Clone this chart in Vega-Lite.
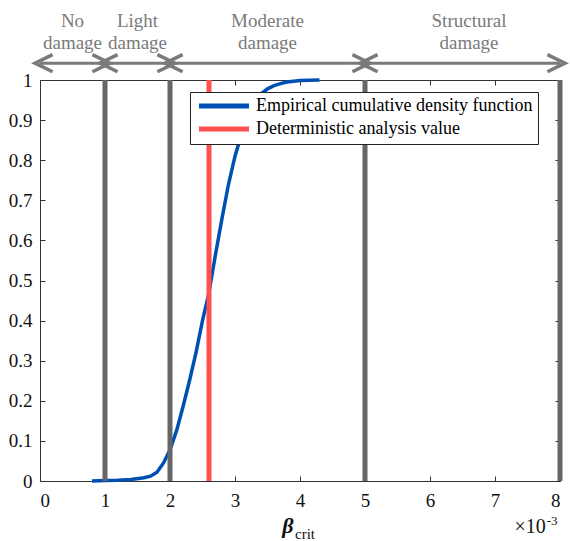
{
  "$schema": "https://vega.github.io/schema/vega-lite/v6.json",
  "autosize": {"type": "none"},
  "padding": {"left": 40, "top": 80, "right": 10, "bottom": 60},
  "width": 520,
  "height": 401,
  "background": "white",
  "config": {
    "view": {"stroke": "#333333", "strokeWidth": 1},
    "axis": {"grid": false, "domain": false, "tickColor": "#333333", "tickSize": -5, "tickWidth": 1,
             "labelFont": "Liberation Serif", "labelFontSize": 19, "labelColor": "#111111", "title": null}
  },
  "datasets": {
    "ecdf": [
      {"beta": 0.8, "p": 0.0}, {"beta": 1.0, "p": 0.001}, {"beta": 1.2, "p": 0.002}, {"beta": 1.4, "p": 0.004},
      {"beta": 1.6, "p": 0.008}, {"beta": 1.7, "p": 0.012}, {"beta": 1.8, "p": 0.022}, {"beta": 1.9, "p": 0.045},
      {"beta": 2.0, "p": 0.078}, {"beta": 2.1, "p": 0.125}, {"beta": 2.2, "p": 0.185}, {"beta": 2.3, "p": 0.25},
      {"beta": 2.4, "p": 0.32}, {"beta": 2.5, "p": 0.4}, {"beta": 2.6, "p": 0.47}, {"beta": 2.7, "p": 0.565},
      {"beta": 2.8, "p": 0.655}, {"beta": 2.9, "p": 0.74}, {"beta": 3.0, "p": 0.81}, {"beta": 3.1, "p": 0.865},
      {"beta": 3.2, "p": 0.905}, {"beta": 3.3, "p": 0.94}, {"beta": 3.4, "p": 0.965}, {"beta": 3.5, "p": 0.978},
      {"beta": 3.6, "p": 0.986}, {"beta": 3.7, "p": 0.991}, {"beta": 3.8, "p": 0.995}, {"beta": 3.9, "p": 0.997},
      {"beta": 4.0, "p": 0.999}, {"beta": 4.3, "p": 1.0}
    ],
    "limits": [{"v": 1}, {"v": 2}, {"v": 5}, {"v": 8}],
    "regions": [
      {"start": 0, "end": 1, "label_x": 0.5, "name": "No\ndamage"},
      {"start": 1, "end": 2, "label_x": 1.5, "name": "Light\ndamage"},
      {"start": 2, "end": 5, "label_x": 3.5, "name": "Moderate\ndamage"},
      {"start": 5, "end": 8, "label_x": 6.6, "name": "Structural\ndamage"}
    ],
    "det": [{"v": 2.6}],
    "one": [{"k": 1}]
  },
  "resolve": {"axis": {"x": "independent", "y": "independent"}},
  "layer": [
    {
      "data": {"name": "ecdf"},
      "mark": {"type": "line", "strokeWidth": 3.5, "clip": false},
      "encoding": {
        "x": {"field": "beta", "type": "quantitative", "scale": {"domain": [0, 8], "nice": false},
              "axis": {"values": [0, 1, 2, 3, 4, 5, 6, 7, 8], "labelPadding": 15, "orient": "bottom"}},
        "y": {"field": "p", "type": "quantitative", "scale": {"domain": [0, 1], "nice": false, "zero": false},
              "axis": {"values": [0, 0.1, 0.2, 0.3, 0.4, 0.5, 0.6, 0.7, 0.8, 0.9, 1], "format": ".1~f", "labelPadding": 13, "orient": "left"}},
        "color": {
          "datum": "Empirical cumulative density function",
          "scale": {"domain": ["Empirical cumulative density function", "Deterministic analysis value"], "range": ["#0050b4", "#ff5050"]},
          "legend": {
            "orient": "none", "legendX": 150, "legendY": 12, "title": null,
            "strokeColor": "#222222", "fillColor": "white", "padding": 5,
            "symbolType": "M -1 0 L 9 0", "symbolSize": 100, "symbolStrokeWidth": 5,
            "labelFont": "Liberation Serif", "labelFontSize": 18, "labelColor": "#000000",
            "labelOffset": 43, "rowPadding": 3, "labelLimit": 400
          }
        }
      }
    },
    {
      "data": {"name": "limits"},
      "mark": {"type": "rule", "color": "#666666", "strokeWidth": 5},
      "encoding": {
        "x": {"field": "v", "type": "quantitative", "axis": {"orient": "top", "values": [0, 1, 2, 3, 4, 5, 6, 7, 8], "labels": false, "tickSize": -5}},
        "y": {"datum": 0, "type": "quantitative", "axis": {"orient": "right", "values": [0, 0.1, 0.2, 0.3, 0.4, 0.5, 0.6, 0.7, 0.8, 0.9, 1], "labels": false, "tickSize": -5}},
        "y2": {"datum": 1}
      }
    },
    {
      "data": {"name": "det"},
      "mark": {"type": "rule", "strokeWidth": 5},
      "encoding": {
        "x": {"field": "v", "type": "quantitative", "axis": null},
        "color": {"datum": "Deterministic analysis value"}
      }
    },
    {
      "data": {"name": "regions"},
      "mark": {"type": "rule", "color": "#7a7a7a", "strokeWidth": 3},
      "encoding": {
        "x": {"field": "start", "type": "quantitative", "axis": null},
        "x2": {"field": "end"},
        "y": {"datum": 1.042, "axis": null}
      }
    },
    {
      "data": {"name": "regions"},
      "mark": {"type": "point", "shape": "M 1.4 -0.95 L -0.55 0 L 1.4 0.95", "filled": false, "stroke": "#7a7a7a", "strokeWidth": 3.5, "size": 324, "opacity": 1},
      "encoding": {
        "x": {"field": "start", "type": "quantitative", "axis": null},
        "y": {"datum": 1.042, "axis": null}
      }
    },
    {
      "data": {"name": "regions"},
      "mark": {"type": "point", "shape": "M -1.4 -0.95 L 0.55 0 L -1.4 0.95", "filled": false, "stroke": "#7a7a7a", "strokeWidth": 3.5, "size": 324, "opacity": 1},
      "encoding": {
        "x": {"field": "end", "type": "quantitative", "axis": null},
        "y": {"datum": 1.042, "axis": null}
      }
    },
    {
      "data": {"name": "regions"},
      "mark": {"type": "text", "font": "Liberation Serif", "fontSize": 19, "color": "#7a7a7a", "baseline": "bottom", "align": "center", "lineBreak": "\n", "lineHeight": 22},
      "encoding": {
        "x": {"field": "label_x", "type": "quantitative", "axis": null},
        "y": {"datum": 1.122, "axis": null},
        "text": {"field": "name"}
      }
    },
    {
      "data": {"name": "one"},
      "mark": {"type": "text", "font": "Liberation Serif", "fontSize": 22, "fontWeight": "bold", "fontStyle": "italic", "color": "#111111", "align": "center", "baseline": "middle"},
      "encoding": {
        "x": {"datum": 3.815, "type": "quantitative", "axis": null},
        "y": {"datum": -0.112, "type": "quantitative", "axis": null},
        "text": {"value": "β"}
      }
    },
    {
      "data": {"name": "one"},
      "mark": {"type": "text", "font": "Liberation Serif", "fontSize": 15, "color": "#111111", "align": "left", "baseline": "middle"},
      "encoding": {
        "x": {"datum": 3.923, "type": "quantitative", "axis": null},
        "y": {"datum": -0.132, "type": "quantitative", "axis": null},
        "text": {"value": "crit"}
      }
    },
    {
      "data": {"name": "one"},
      "mark": {"type": "text", "font": "Liberation Serif", "fontSize": 20, "color": "#111111", "align": "right", "baseline": "middle"},
      "encoding": {
        "x": {"datum": 7.78, "type": "quantitative", "axis": null},
        "y": {"datum": -0.115, "type": "quantitative", "axis": null},
        "text": {"value": "×10"}
      }
    },
    {
      "data": {"name": "one"},
      "mark": {"type": "text", "font": "Liberation Serif", "fontSize": 13, "color": "#111111", "align": "left", "baseline": "middle"},
      "encoding": {
        "x": {"datum": 7.795, "type": "quantitative", "axis": null},
        "y": {"datum": -0.1, "type": "quantitative", "axis": null},
        "text": {"value": "-3"}
      }
    }
  ]
}
